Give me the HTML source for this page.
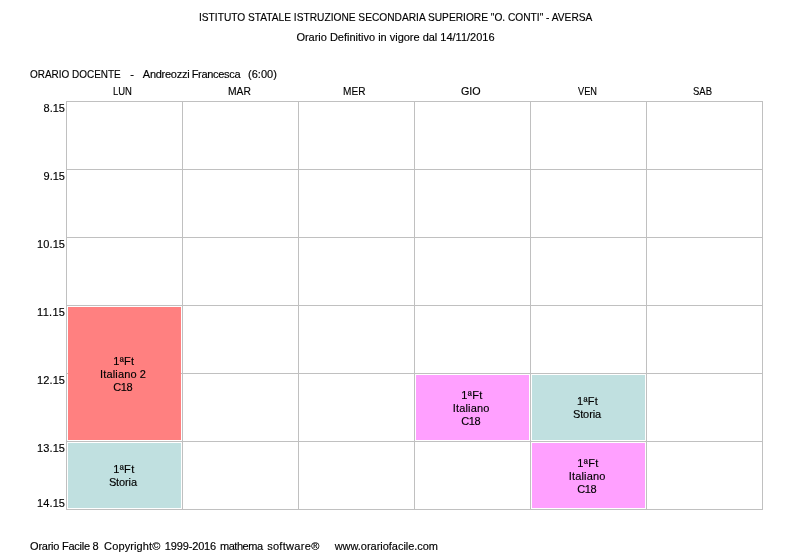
<!DOCTYPE html>
<html lang="it">
<head>
<meta charset="utf-8">
<title>Orario Docente - Andreozzi Francesca</title>
<style>
html,body{margin:0;padding:0;background:#fff;}
body{width:793px;height:559px;position:relative;overflow:hidden;font-family:"Liberation Sans",sans-serif;font-size:11px;line-height:13px;color:#000;-webkit-text-stroke:0.15px #000;}
.t{position:absolute;white-space:pre;height:13px;transform-origin:0 0;}
.v,.h{position:absolute;background:#c0c0c0;}
.v{width:1px;top:101px;height:409px;}
.h{height:1px;left:66px;width:697px;}
.blk{position:absolute;width:113px;}
.red{background:#ff8080;}
.cyan{background:#c0e0e0;}
.pink{background:#ffa0ff;}
</style>
</head>
<body>

<header>
<span class="t" id="t1" style="left:199.15px;top:10.50px;transform:scaleX(0.9258)">ISTITUTO STATALE ISTRUZIONE SECONDARIA SUPERIORE "O. CONTI" - AVERSA</span>
<span class="t" id="t2" style="left:296.40px;top:30.50px;letter-spacing:-0.01px">Orario Definitivo in vigore dal 14/11/2016</span>
<div class="teacher">
<span class="t" id="h1" style="left:29.72px;top:67.50px;transform:scaleX(0.9055)">ORARIO DOCENTE</span>
<span class="t" id="h2" style="left:130.34px;top:67.50px">-</span>
<span class="t" id="h3" style="left:142.85px;top:67.50px;letter-spacing:-0.27px">Andreozzi</span>
<span class="t" id="h4" style="left:191.72px;top:67.50px;letter-spacing:-0.32px">Francesca</span>
<span class="t" id="h5" style="left:248.08px;top:67.50px">(6:00)</span>
</div>
</header>
<main>
<div class="days">
<span class="t" id="d0" style="left:113.21px;top:84.50px;transform:scaleX(0.8603)">LUN</span>
<span class="t" id="d1" style="left:227.83px;top:84.50px;transform:scaleX(0.9366)">MAR</span>
<span class="t" id="d2" style="left:343.30px;top:84.50px;transform:scaleX(0.9174)">MER</span>
<span class="t" id="d3" style="left:461.23px;top:84.50px;transform:scaleX(0.9764)">GIO</span>
<span class="t" id="d4" style="left:577.96px;top:84.50px;transform:scaleX(0.8392)">VEN</span>
<span class="t" id="d5" style="left:693.32px;top:84.50px;transform:scaleX(0.8625)">SAB</span>
</div>
<div class="hours">
<span class="t" id="m0" style="left:43.60px;top:101.50px;letter-spacing:-0.02px">8.15</span>
<span class="t" id="m1" style="left:43.57px;top:169.50px;letter-spacing:-0.05px">9.15</span>
<span class="t" id="m2" style="left:37.02px;top:237.50px;letter-spacing:0.11px">10.15</span>
<span class="t" id="m3" style="left:37.02px;top:305.50px;letter-spacing:0.31px">11.15</span>
<span class="t" id="m4" style="left:37.02px;top:373.50px;letter-spacing:0.11px">12.15</span>
<span class="t" id="m5" style="left:37.02px;top:441.50px;letter-spacing:0.11px">13.15</span>
<span class="t" id="m6" style="left:37.02px;top:496.50px;letter-spacing:0.11px">14.15</span>
</div>
<div class="grid">
<div class="v" style="left:66px"></div>
<div class="v" style="left:182px"></div>
<div class="v" style="left:298px"></div>
<div class="v" style="left:414px"></div>
<div class="v" style="left:530px"></div>
<div class="v" style="left:646px"></div>
<div class="v" style="left:762px"></div>
<div class="h" style="top:101px"></div>
<div class="h" style="top:169px"></div>
<div class="h" style="top:237px"></div>
<div class="h" style="top:305px"></div>
<div class="h" style="top:373px"></div>
<div class="h" style="top:441px"></div>
<div class="h" style="top:509px"></div>
<div class="blk red" style="left:68px;top:307px;height:133px">
<span class="t" id="b1a" style="left:45.35px;top:47.50px;letter-spacing:0.24px">1ªFt</span>
<span class="t" id="b1b" style="left:32.07px;top:60.50px;letter-spacing:0.14px">Italiano 2</span>
<span class="t" id="b1c" style="left:45.14px;top:73.50px;letter-spacing:-0.29px">C18</span>
</div>
<div class="blk cyan" style="left:68px;top:443px;height:65px">
<span class="t" id="b2a" style="left:45.34px;top:19.50px;letter-spacing:0.30px">1ªFt</span>
<span class="t" id="b2b" style="left:40.90px;top:32.50px;letter-spacing:-0.12px">Storia</span>
</div>
<div class="blk pink" style="left:416px;top:375px;height:65px">
<span class="t" id="b3a" style="left:45.35px;top:13.50px;letter-spacing:0.30px">1ªFt</span>
<span class="t" id="b3b" style="left:36.77px;top:26.50px;letter-spacing:0.15px">Italiano</span>
<span class="t" id="b3c" style="left:45.14px;top:39.50px;letter-spacing:-0.29px">C18</span>
</div>
<div class="blk cyan" style="left:532px;top:375px;height:65px">
<span class="t" id="b4a" style="left:45.06px;top:19.50px;letter-spacing:0.29px">1ªFt</span>
<span class="t" id="b4b" style="left:40.90px;top:32.50px;letter-spacing:-0.09px">Storia</span>
</div>
<div class="blk pink" style="left:532px;top:443px;height:65px">
<span class="t" id="b5a" style="left:45.35px;top:13.50px;letter-spacing:0.30px">1ªFt</span>
<span class="t" id="b5b" style="left:36.77px;top:26.50px;letter-spacing:0.15px">Italiano</span>
<span class="t" id="b5c" style="left:45.14px;top:39.50px;letter-spacing:-0.29px">C18</span>
</div>
</div>
</main>
<footer>
<span class="t" id="f1" style="left:30.09px;top:539.50px;letter-spacing:-0.25px">Orario Facile 8</span>
<span class="t" id="f2" style="left:104.11px;top:539.50px;letter-spacing:0.12px">Copyright©</span>
<span class="t" id="f3" style="left:164.85px;top:539.50px;letter-spacing:-0.16px">1999-2016</span>
<span class="t" id="f4" style="left:220.04px;top:539.50px;letter-spacing:-0.47px">mathema</span>
<span class="t" id="f5" style="left:267.13px;top:539.50px;letter-spacing:0.31px">software®</span>
<span class="t" id="f6" style="left:334.69px;top:539.50px;letter-spacing:-0.03px">www.orariofacile.com</span>
</footer>
</body>
</html>
